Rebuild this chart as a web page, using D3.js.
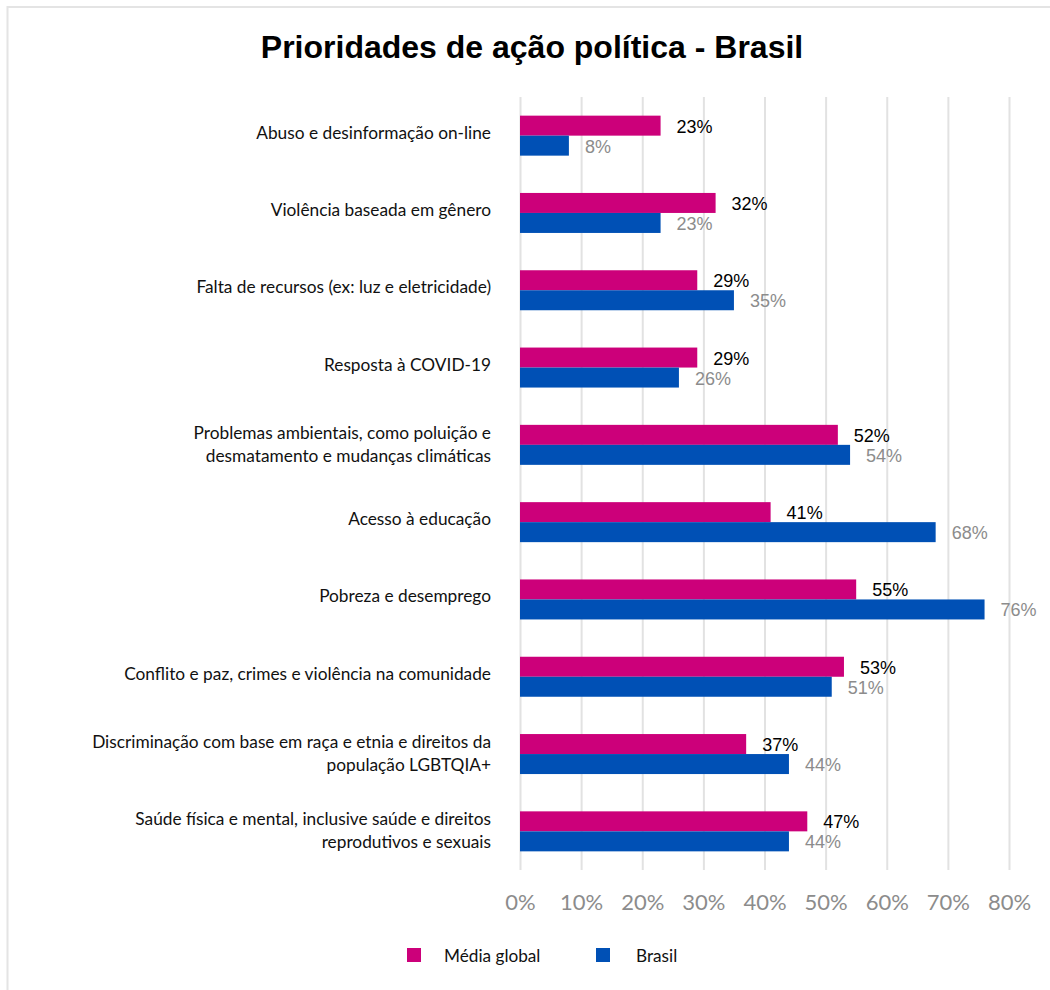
<!DOCTYPE html>
<html><head><meta charset="utf-8">
<script src="https://cdn.jsdelivr.net/npm/d3@7"></script>
<style>body{margin:0;background:#fff}</style>
</head><body>
<svg id="c" width="1050" height="990"></svg>
<script>
const categories = [
  "Abuso e desinformação on-line",
  "Violência baseada em gênero",
  "Falta de recursos (ex: luz e eletricidade)",
  "Resposta à COVID-19",
  "Problemas ambientais, como poluição e\ndesmatamento e mudanças climáticas",
  "Acesso à educação",
  "Pobreza e desemprego",
  "Conflito e paz, crimes e violência na comunidade",
  "Discriminação com base em raça e etnia e direitos da\npopulação LGBTQIA+",
  "Saúde física e mental, inclusive saúde e direitos\nreprodutivos e sexuais"
];
const mediaGlobal = [23, 32, 29, 29, 52, 41, 55, 53, 37, 47];
const brasil = [8, 23, 35, 26, 54, 68, 76, 51, 44, 44];
const seriesNames = ["Média global", "Brasil"];
const tickValues = [0, 10, 20, 30, 40, 50, 60, 70, 80];
const title = "Prioridades de ação política - Brasil";

const colors = ["#cc007a", "#0050b5"];
const svg = d3.select("#c");

// frame
svg.append("rect").attr("x", 7.5).attr("y", 7).attr("width", 1100).attr("height", 1100)
  .attr("fill", "none").attr("stroke", "#e4e4e4").attr("stroke-width", 2);

// title
svg.append("text").attr("x", 532).attr("y", 58).attr("text-anchor", "middle")
  .attr("font-family", "Liberation Sans, Arial, sans-serif").attr("font-weight", "bold")
  .attr("font-size", 32).attr("fill", "#000").text(title);

const x = d3.scaleLinear().domain([0, 80]).range([520, 1009]);
const y = d3.scaleBand().domain(categories).range([97, 870]);
const barH = 20;

// gridlines + axis
const axis = svg.append("g").attr("transform", "translate(0,870)")
  .call(d3.axisBottom(x).tickValues(tickValues).tickSize(-(870 - 97)).tickFormat(d => d + "%"));
axis.select(".domain").remove();
axis.selectAll(".tick line").attr("stroke", "#e2e2e2").attr("stroke-width", 2);
axis.selectAll(".tick text").attr("y", 40).attr("dy", 0)
  .attr("font-family", "Lato, sans-serif").attr("font-size", 22).attr("fill", "#8c8c8c");

// bars
const series = [mediaGlobal, brasil];
series.forEach((vals, si) => {
  const g = svg.append("g");
  g.selectAll("rect").data(categories).join("rect")
    .attr("x", x(0))
    .attr("y", (c) => y(c) + y.bandwidth() / 2 - barH + si * barH)
    .attr("width", (c, i) => x(vals[i]) - x(0))
    .attr("height", barH)
    .attr("fill", colors[si]);
  g.selectAll("text").data(categories).join("text")
    .attr("x", (c, i) => x(vals[i]) + 16)
    .attr("y", (c) => y(c) + y.bandwidth() / 2 - barH / 2 + si * barH + 7)
    .attr("font-family", "Liberation Sans, Arial, sans-serif")
    .attr("font-size", 18)
    .attr("fill", si === 0 ? "#000" : "#8c8c8c")
    .text((c, i) => vals[i] + "%");
});

// category labels
const lab = svg.append("g");
categories.forEach(c => {
  const lines = c.split("\n");
  const cy = y(c) + y.bandwidth() / 2;
  const offs = lines.length === 1 ? [3] : [-6, 17];
  lines.forEach((ln, k) => {
    lab.append("text").attr("x", 491).attr("y", cy + offs[k])
      .attr("text-anchor", "end")
      .attr("font-family", "Lato, sans-serif").attr("font-size", 17.3)
      .attr("fill", "#111").text(ln);
  });
});

// legend
const legX = [407, 596];
const legTX = [444, 636];
seriesNames.forEach((n, i) => {
  svg.append("rect").attr("x", legX[i]).attr("y", 948).attr("width", 14).attr("height", 14).attr("fill", colors[i]);
  svg.append("text").attr("x", legTX[i]).attr("y", 962)
    .attr("font-family", "Lato, sans-serif").attr("font-size", 17.2).attr("fill", "#111").text(n);
});
</script>
</body></html>
